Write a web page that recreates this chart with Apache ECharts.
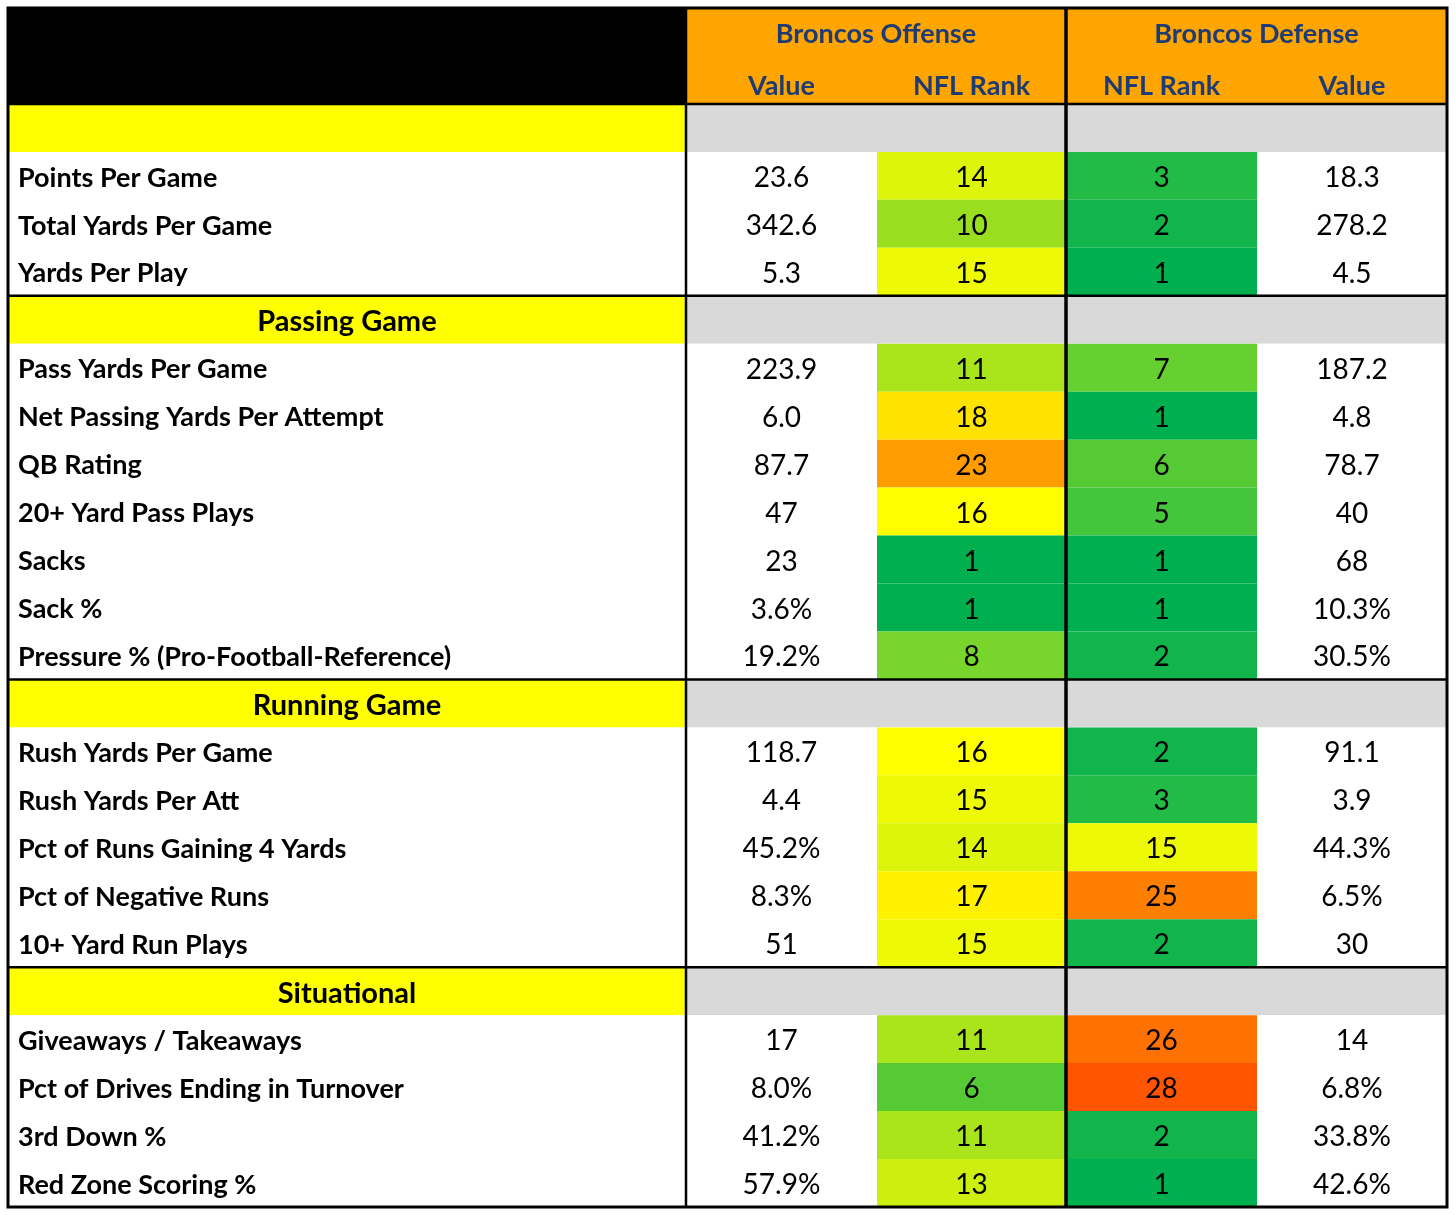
<!DOCTYPE html>
<html>
<head>
<meta charset="utf-8">
<script src="https://cdn.jsdelivr.net/npm/echarts@6/dist/echarts.min.js"></script>
<style>html,body{margin:0;padding:0;background:#fff}#main{width:1456px;height:1215px}</style>
</head>
<body>
<div id="main"></div>
<script>
// table data, one entry per row under the header
var rowLabels = ['', 'Points Per Game', 'Total Yards Per Game', 'Yards Per Play', 'Passing Game',
    'Pass Yards Per Game', 'Net Passing Yards Per Attempt', 'QB Rating', '20+ Yard Pass Plays', 'Sacks',
    'Sack %', 'Pressure % (Pro-Football-Reference)', 'Running Game', 'Rush Yards Per Game',
    'Rush Yards Per Att', 'Pct of Runs Gaining 4 Yards', 'Pct of Negative Runs', '10+ Yard Run Plays',
    'Situational', 'Giveaways / Takeaways', 'Pct of Drives Ending in Turnover', '3rd Down %', 'Red Zone Scoring %'];
var sectionRows = [0, 4, 12, 18];
var offValue = ['', '23.6', '342.6', '5.3', '', '223.9', '6.0', '87.7', '47', '23', '3.6%', '19.2%', '',
    '118.7', '4.4', '45.2%', '8.3%', '51', '', '17', '8.0%', '41.2%', '57.9%'];
var offRank = [null, 14, 10, 15, null, 11, 18, 23, 16, 1, 1, 8, null, 16, 15, 14, 17, 15, null, 11, 6, 11, 13];
var defRank = [null, 3, 2, 1, null, 7, 1, 6, 5, 1, 1, 2, null, 2, 3, 15, 25, 2, null, 26, 28, 2, 1];
var defValue = ['', '18.3', '278.2', '4.5', '', '187.2', '4.8', '78.7', '40', '68', '10.3%', '30.5%', '',
    '91.1', '3.9', '44.3%', '6.5%', '30', '', '14', '6.8%', '33.8%', '42.6%'];
var headerTop = ['Broncos Offense', 'Broncos Defense'];
var headerSub = ['Value', 'NFL Rank', 'NFL Rank', 'Value'];

// column edges (grid units) and row count (2 header rows + data rows)
var X = [0, 678, 869, 1058, 1249, 1439];
var nRows = rowLabels.length + 2;
var yCats = [];
for (var k = 0; k < nRows; k++) yCats.push(String(k));

var FONT = 'Lato, "Open Sans", sans-serif';
var BLUE = '#1f3b73';

function cellBox(api, c0, c1, r, span) {
    var p0 = api.coord([X[c0], r]);
    var p1 = api.coord([X[c1], r]);
    var h = api.size([0, 1])[1];
    return { x: p0[0], y: p0[1] - h / 2, width: p1[0] - p0[0], height: h * (span || 1) };
}
function txt(b, s, opt) {
    opt = opt || {};
    return {
        type: 'text',
        style: {
            text: s, x: opt.left ? b.x + 10 : b.x + b.width / 2, y: b.y + b.height / 2 + 2,
            align: opt.left ? 'left' : 'center', verticalAlign: 'middle',
            font: (opt.bold ? 'bold ' : '') + (opt.size || 28) + 'px ' + FONT,
            fill: opt.color || '#000'
        }
    };
}

var myChart = echarts.init(document.getElementById('main'));
var option = {
    animation: false,
    grid: { left: 8, top: 8, width: 1439, height: 1199 },
    xAxis: { type: 'value', min: 0, max: 1439, show: false },
    yAxis: { type: 'category', data: yCats, inverse: true, show: false },
    visualMap: {
        show: false, min: 1, max: 31, dimension: 1, seriesIndex: [2, 3],
        inRange: { color: ['#00b050', '#ffff00', '#ff2a00'] }
    },
    series: [{
        // header block
        type: 'custom',
        data: [[0]],
        renderItem: function (params, api) {
            var ch = [];
            var lb = cellBox(api, 0, 1, 0, 2);
            ch.push({ type: 'rect', shape: lb, style: { fill: '#000' } });
            var o = cellBox(api, 1, 5, 0, 2);
            ch.push({ type: 'rect', shape: o, style: { fill: '#ffa500' } });
            ch.push(txt(cellBox(api, 1, 3, 0), headerTop[0], { bold: true, color: BLUE, size: 27 }));
            ch.push(txt(cellBox(api, 3, 5, 0), headerTop[1], { bold: true, color: BLUE, size: 27 }));
            for (var c = 0; c < 4; c++) {
                var b = cellBox(api, c + 1, c + 2, 1);
                b.y += 4;
                ch.push(txt(b, headerSub[c], { bold: true, color: BLUE, size: 27 }));
            }
            return { type: 'group', children: ch };
        }
    }, {
        // label column and value cells
        type: 'custom',
        data: rowLabels.map(function (l, i) { return [i]; }),
        renderItem: function (params, api) {
            var i = api.value(0), r = i + 2;
            var sec = sectionRows.indexOf(i) >= 0;
            var ch = [];
            var lb = cellBox(api, 0, 1, r);
            ch.push({ type: 'rect', shape: lb, style: { fill: sec ? '#ffff00' : '#fff' } });
            ch.push({ type: 'rect', shape: cellBox(api, 1, 5, r), style: { fill: sec ? '#d9d9d9' : '#fff' } });
            if (sec) {
                ch.push(txt(lb, rowLabels[i], { bold: true, size: 29 }));
            } else {
                ch.push(txt(lb, rowLabels[i], { bold: true, left: true, size: 27 }));
                ch.push(txt(cellBox(api, 1, 2, r), offValue[i]));
                ch.push(txt(cellBox(api, 4, 5, r), defValue[i]));
            }
            return { type: 'group', children: ch };
        }
    }, {
        // offense rank cells
        type: 'custom',
        data: offRank.map(function (v, i) { return [i, v]; }).filter(function (d) { return d[1] != null; }),
        renderItem: function (params, api) {
            var b = cellBox(api, 2, 3, api.value(0) + 2);
            return { type: 'group', children: [
                { type: 'rect', shape: b, style: { fill: api.visual('color') } },
                txt(b, String(api.value(1)))
            ] };
        }
    }, {
        // defense rank cells
        type: 'custom',
        data: defRank.map(function (v, i) { return [i, v]; }).filter(function (d) { return d[1] != null; }),
        renderItem: function (params, api) {
            var b = cellBox(api, 3, 4, api.value(0) + 2);
            return { type: 'group', children: [
                { type: 'rect', shape: b, style: { fill: api.visual('color') } },
                txt(b, String(api.value(1)))
            ] };
        }
    }, {
        // borders
        type: 'custom',
        z: 10,
        data: [[0]],
        renderItem: function (params, api) {
            var ch = [];
            var all = cellBox(api, 0, 5, 0, nRows);
            var hLines = [2, 6, 14, 20];
            hLines.forEach(function (r) {
                var b = cellBox(api, 0, 5, r);
                ch.push({ type: 'line', shape: { x1: b.x, y1: b.y, x2: b.x + b.width, y2: b.y }, style: { stroke: '#000', lineWidth: 2.5 } });
            });
            [1, 3].forEach(function (c) {
                var x = api.coord([X[c], 0])[0];
                ch.push({ type: 'line', shape: { x1: x, y1: all.y, x2: x, y2: all.y + all.height }, style: { stroke: '#000', lineWidth: c === 3 ? 3.5 : 2.5 } });
            });
            ch.push({ type: 'rect', shape: all, style: { fill: 'none', stroke: '#000', lineWidth: 3 } });
            return { type: 'group', children: ch };
        }
    }]
};
myChart.setOption(option);
</script>
</body>
</html>
